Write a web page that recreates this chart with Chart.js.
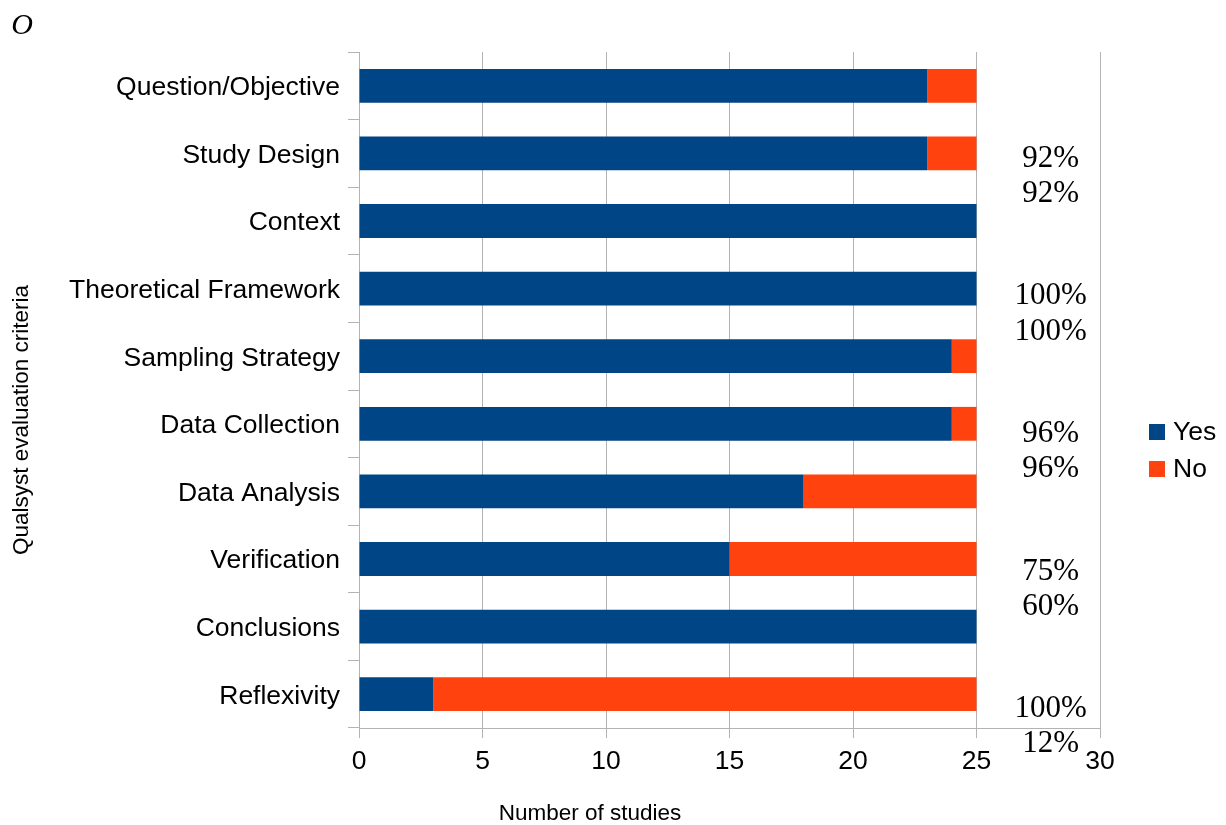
<!DOCTYPE html>
<html>
<head>
<meta charset="utf-8">
<script src="https://cdn.jsdelivr.net/npm/chart.js@4/dist/chart.umd.min.js"></script>
<style>
  html, body { margin: 0; padding: 0; background: #fff; }
  #wrap { width: 1226px; height: 825px; }
</style>
</head>
<body>
<div id="wrap"><canvas id="myChart" width="1226" height="825"></canvas></div>
<script>
var criteria = ['Question/Objective', 'Study Design', 'Context', 'Theoretical Framework',
    'Sampling Strategy', 'Data Collection', 'Data Analysis', 'Verification',
    'Conclusions', 'Reflexivity'];
var yesCounts = [23, 23, 25, 25, 24, 24, 18, 15, 25, 3];
var noCounts = [2, 2, 0, 0, 1, 1, 7, 10, 0, 22];
var pctLabels = ['92%', '92%', '100%', '100%', '96%', '96%', '75%', '60%', '100%', '12%'];
var xTicks = [0, 5, 10, 15, 20, 25, 30];

var sans = '"Liberation Sans", Arial, sans-serif';
var serif = '"Liberation Serif", "Times New Roman", serif';
var gridGrey = '#b3b3b3';

// extra texts: corner letter, axis titles, percentage notes, legend
var extrasPlugin = {
    id: 'extras',
    afterDraw: function (chart) {
        var c = chart.ctx;
        var xs = chart.scales.x;
        var ys = chart.scales.y;
        var area = chart.chartArea;
        c.save();
        c.fillStyle = '#000';

        c.font = 'italic 30px ' + serif;
        c.textAlign = 'center';
        c.textBaseline = 'middle';
        c.fillText('O', 22, 26);

        c.font = '22.5px ' + sans;
        c.fillText('Number of studies', 590, 814);
        c.save();
        c.translate(22, 420);
        c.rotate(-Math.PI / 2);
        c.fillText('Qualsyst evaluation criteria', 0, 0);
        c.restore();

        var step = ys.getPixelForValue(1) - ys.getPixelForValue(0);
        var base = ys.getPixelForValue(1);
        var px = xs.getPixelForValue(28);
        c.font = '31px ' + serif;
        for (var i = 0; i < pctLabels.length; i++) {
            var k = Math.floor(i / 2), j = i % 2;
            var py = base + 2 + step * (0.05 + k * 2.035 + j * 0.52);
            c.fillText(pctLabels[i], px, py);
        }

        c.font = '26.5px ' + sans;
        c.textAlign = 'left';
        var lx = area.right + 49;
        var ly = 432;
        chart.data.datasets.forEach(function (ds, n) {
            var cy = ly + n * 37;
            c.fillStyle = ds.backgroundColor;
            c.fillRect(lx, cy - 8, 16, 16);
            c.fillStyle = '#000';
            c.fillText(ds.label, lx + 24, cy + 1);
        });
        c.restore();
    }
};

var ctx = document.getElementById('myChart');
var myBarChart = new Chart(ctx, {
    type: 'bar',
    data: {
        labels: criteria,
        datasets: [
            {
                label: 'Yes',
                backgroundColor: '#004586',
                data: yesCounts
            },
            {
                label: 'No',
                backgroundColor: '#ff420e',
                data: noCounts
            }
        ]
    },
    options: {
        indexAxis: 'y',
        responsive: false,
        animation: false,
        layout: {
            padding: { top: 52, right: 126, bottom: 0, left: 0 }
        },
        datasets: {
            bar: { categoryPercentage: 1, barPercentage: 0.5 }
        },
        plugins: {
            legend: { display: false },
            tooltip: { enabled: false }
        },
        scales: {
            x: {
                stacked: true,
                min: 0,
                max: 30,
                afterBuildTicks: function (scale) {
                    scale.ticks = xTicks.map(function (v) { return { value: v }; });
                },
                afterFit: function (scale) { scale.height = 97; },
                grid: { color: gridGrey, tickLength: 10, lineWidth: 1 },
                border: { color: gridGrey },
                ticks: { color: '#000', padding: 8, font: { family: sans, size: 26.5 } }
            },
            y: {
                stacked: true,
                afterFit: function (scale) { scale.width = 359; },
                grid: { color: gridGrey, drawOnChartArea: false, tickLength: 11, offset: true },
                border: { color: gridGrey },
                ticks: { color: '#000', padding: 8, labelOffset: 2, autoSkip: false, font: { family: sans, size: 26.5 } }
            }
        }
    },
    plugins: [extrasPlugin]
});
</script>
</body>
</html>
